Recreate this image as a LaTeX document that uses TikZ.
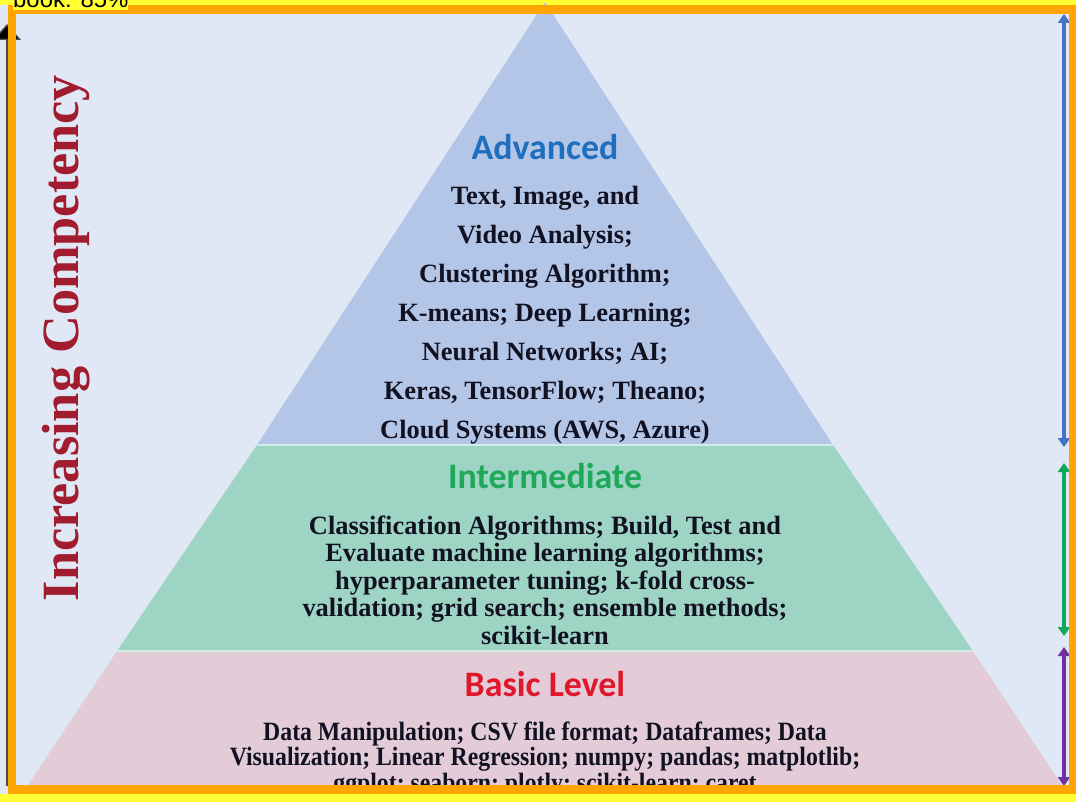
\documentclass[tikz,border=0pt]{standalone}
\usepackage{fontspec}
\setmainfont{Liberation Serif}
\newfontfamily\headfont{Carlito}
\newfontfamily\labelfont{Liberation Sans}
\usetikzlibrary{arrows.meta}

\definecolor{pagebg}{HTML}{E1E8F5}
\definecolor{hilite}{HTML}{FFFF33}
\definecolor{framecol}{HTML}{FFA500}
\definecolor{tierA}{HTML}{B4C6E7}
\definecolor{tierB}{HTML}{9DD4C4}
\definecolor{tierC}{HTML}{E3CBD8}
\definecolor{headA}{HTML}{1F6FBF}
\definecolor{headB}{HTML}{1EA85A}
\definecolor{headC}{HTML}{E0162B}
\definecolor{axisred}{HTML}{A11C2E}
\definecolor{arrA}{HTML}{4472C4}
\definecolor{arrB}{HTML}{12A85A}
\definecolor{arrC}{HTML}{7030A0}
\definecolor{ink}{HTML}{111122}

\tikzset{
  tierhead/.style={font=\headfont\fontsize{36}{40}\selectfont\bfseries, inner sep=0pt},
  itemline/.style={font=\fontsize{26.5}{30}\selectfont\bfseries, text=ink, inner sep=0pt, anchor=base},
  baseline item/.style={itemline, xscale=0.9},
  seam/.style={draw=white!55!tierB, line width=2bp},
  levelarrow/.style={line width=3.5bp, {Triangle[width=12bp,length=9bp]}-{Triangle[width=12bp,length=9bp]}},
}

\begin{document}
\begin{tikzpicture}[x=1bp,y=-1bp]
\useasboundingbox (0,0) rectangle (1076,802);
\clip (0,0) rectangle (1076,802);

% page backgrounds
\fill[hilite] (0,0) rectangle (1076,802);
\fill[pagebg] (0,5) rectangle (1076,794);

% pyramid tiers
\coordinate (apex) at (545,2);
\coordinate (aL) at (257,445); \coordinate (aR) at (833,445);
\coordinate (bL) at (117,651); \coordinate (bR) at (973,651);
\coordinate (cL) at (24,791);  \coordinate (cR) at (1066,791);
\fill[tierA] (apex) -- (aR) -- (aL) -- cycle;
\fill[tierB] (aL) -- (aR) -- (bR) -- (bL) -- cycle;
\fill[tierC] (bL) -- (bR) -- (cR) -- (cL) -- cycle;
\draw[seam] (aL) -- (aR);
\draw[seam] (bL) -- (bR);

% advanced tier
\node[tierhead, text=headA] (advHead) at (545,147) {Advanced};
\foreach \txt [count=\i] in {{Text, Image, and},{Video Analysis;},{Clustering Algorithm;},{K-means; Deep Learning;},{Neural Networks; AI;},{Keras, TensorFlow; Theano;},{Cloud Systems (AWS, Azure)}}
  \node[itemline] (adv\i) at (545,{196+39*(\i-1)+8}) {\txt};

% intermediate tier
\node[tierhead, text=headB] (midHead) at (545,476) {Intermediate};
\foreach \txt [count=\i] in {{Classification Algorithms; Build, Test and},{Evaluate machine learning algorithms;},{hyperparameter tuning; k-fold cross-},{validation; grid search; ensemble methods;},{scikit-learn}}
  \node[itemline] (mid\i) at (545,{526+27.5*(\i-1)+8}) {\txt};

% basic tier
\node[tierhead, text=headC] (basHead) at (545,684) {Basic Level};
\foreach \txt [count=\i] in {{Data Manipulation; CSV file format; Dataframes; Data},{Visualization; Linear Regression; numpy; pandas; matplotlib;},{ggplot; seaborn; plotly; scikit-learn; caret}}
  \node[baseline item] (bas\i) at (545,{732+25.5*(\i-1)+8}) {\txt};

% vertical axis title
\node[font=\fontsize{52.5}{56}\selectfont\bfseries, text=axisred, rotate=90, anchor=base, inner sep=0pt] (axisTitle) at (78,338) {Increasing Competency};

% left axis arrow
\coordinate (axisFoot) at (7,786);
\coordinate (axisTip) at (7,24);
\draw[draw=black!70, line width=1.3bp, -{Triangle[width=28bp,length=16bp,fill=black]}] (axisFoot) -- (axisTip);

% level span arrows on the right
\coordinate (spanAtop) at (1064,14);  \coordinate (spanAbot) at (1064,447);
\coordinate (spanBtop) at (1064,463); \coordinate (spanBbot) at (1064,636);
\coordinate (spanCtop) at (1064,647); \coordinate (spanCbot) at (1064,786);
\draw[levelarrow, arrA] (spanAtop) -- (spanAbot);
\draw[levelarrow, arrB] (spanBtop) -- (spanBbot);
\draw[levelarrow, arrC] (spanCtop) -- (spanCbot);

% outer frame
\draw[framecol, line width=8.5bp] (12,9.5) rectangle (1073,789.5);
\fill[hilite] (0,794) rectangle (1076,802);

% zoom label
\node[font=\labelfont\fontsize{24}{26}\selectfont, fill=hilite, inner sep=0pt, anchor=base west, text depth=2bp] (zoomLabel) at (13,8) {book: 85\%};
\end{tikzpicture}
\end{document}
